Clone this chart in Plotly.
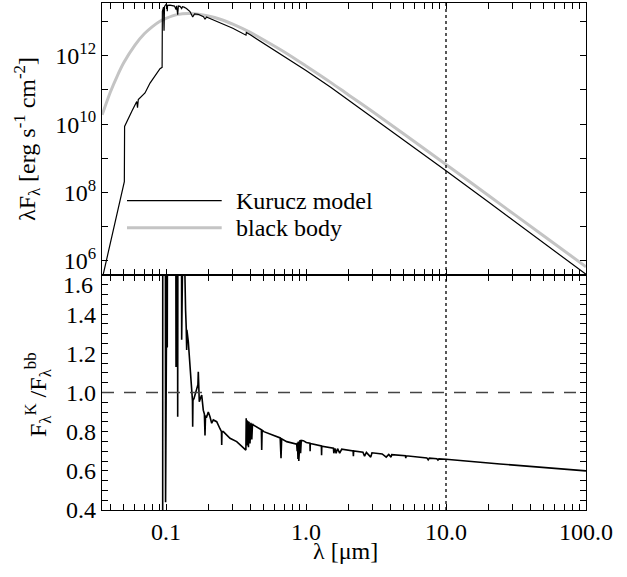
import numpy as np
import plotly.graph_objects as go

# ---------------- data ----------------
# black body: wavelength [um] and log10(lambda F_lambda)
bb_wl = [0.035, 0.04, 0.045, 0.05, 0.06, 0.07, 0.08, 0.09, 0.1, 0.12, 0.15, 0.2, 0.25,
         0.3, 0.4, 0.5, 0.7, 1.0, 1.5, 2.0, 3.0, 5.0, 10.0, 20.0, 50.0, 100.0]
bb_logflux = [10.27, 10.93, 11.42, 11.80, 12.31, 12.64, 12.85, 13.00, 13.09, 13.20, 13.23, 13.16, 13.05,
              12.92, 12.68, 12.46, 12.11, 11.70, 11.22, 10.86, 10.36, 9.71, 8.82, 7.92, 6.73, 5.83]

# Kurucz model: wavelength [um] and log10(lambda F_lambda)
kur_wl = [0.0349, 0.0504, 0.0506, 0.0538, 0.0569, 0.0618, 0.0626, 0.0634, 0.0708, 0.0769,
          0.0834, 0.0906, 0.0938, 0.0942, 0.0960, 0.0968, 0.0976, 0.1000, 0.1018, 0.1021,
          0.1026, 0.1068, 0.1150, 0.1179, 0.1190, 0.1212, 0.1225, 0.1260, 0.1294, 0.1310,
          0.1345, 0.1400, 0.1484, 0.1551, 0.1600, 0.1700, 0.1850, 0.1899, 0.1950, 0.2000,
          0.2500, 0.3000, 0.3727, 0.3750, 0.4000, 0.5000, 0.7000, 1.0, 1.5, 2.0,
          3.0, 5.0, 10.0, 20.0, 50.0, 100.0]
kur_logflux = [5.45, 8.32, 9.93, 10.18, 10.37, 10.66, 10.48, 10.72, 10.91, 11.20,
               11.40, 11.62, 11.66, 13.30, 13.42, 12.73, 13.44, 13.50, 13.46, 13.30,
               13.47, 13.48, 13.45, 13.35, 13.46, 13.20, 13.45, 13.44, 13.38, 13.43,
               13.42, 13.38, 13.29, 13.13, 13.22, 13.21, 13.14, 13.07, 13.13, 13.11,
               12.95, 12.80, 12.60, 12.68, 12.61, 12.36, 11.99, 11.57, 11.08, 10.71,
               10.20, 9.54, 8.64, 7.73, 6.52, 5.61]

# ratio F_K / F_bb
ratio_wl = [0.0349, 0.0935, 0.0947, 0.0948, 0.0990, 0.0993, 0.0996, 0.1018, 0.1021, 0.1024,
            0.1175, 0.1179, 0.1183, 0.1208, 0.1212, 0.1216, 0.1290, 0.1294, 0.1298, 0.1325,
            0.1329, 0.1333, 0.1360, 0.1367, 0.1380, 0.1395, 0.1405, 0.1410, 0.1443, 0.1460,
            0.1484, 0.1510, 0.1526, 0.1545, 0.1551, 0.1558, 0.1585, 0.1620, 0.1657, 0.1690,
            0.1701, 0.1712, 0.1729, 0.1760, 0.1799, 0.1846, 0.1880, 0.1899, 0.1915, 0.1953,
            0.2005, 0.2062, 0.2120, 0.2177, 0.2240, 0.2302, 0.2430, 0.2490, 0.2500, 0.2510,
            0.2567, 0.2715, 0.2865, 0.3199, 0.3378, 0.3720, 0.3740, 0.3760, 0.3780, 0.3810,
            0.3840, 0.3880, 0.3920, 0.3980, 0.4040, 0.4100, 0.4150, 0.4204, 0.4445, 0.4800,
            0.4827, 0.4860, 0.5000, 0.5840, 0.6540, 0.6630, 0.6700, 0.7279, 0.8200, 0.8583,
            0.8650, 0.8700, 0.8760, 0.8820, 0.8880, 0.8950, 0.9060, 0.9150, 0.9250, 0.9565,
            1.0050, 1.0670, 1.0700, 1.0730, 1.2880, 1.2920, 1.2960, 1.5700, 1.5800, 1.6100,
            1.6400, 1.6800, 1.7400, 1.8000, 2.1700, 2.1800, 2.1900, 2.5500, 2.6200, 2.7000,
            2.9000, 2.9600, 3.5000, 3.7400, 3.9000, 4.0500, 4.1000, 5.1300, 5.1600, 5.2000,
            6.5000, 7.3000, 7.4600, 7.6000, 8.6000, 8.7600, 8.9000, 10.0, 24.3, 100.0]
ratio_val = [0.01, 0.30, 0.38, 1.90, 1.90, 0.44, 1.90, 1.90, 1.23, 1.90,
             1.90, 1.13, 1.90, 1.90, 0.876, 1.90, 1.90, 1.27, 1.90, 1.90,
             1.62, 1.90, 1.66, 1.50, 1.42, 1.33, 1.217, 1.32, 1.26, 1.21,
             1.15, 1.06, 1.00, 0.96, 0.825, 0.96, 0.97, 0.99, 1.01, 1.04,
             1.106, 1.02, 0.953, 0.97, 0.987, 0.91, 0.89, 0.78, 0.88, 0.876,
             0.90, 0.876, 0.843, 0.86, 0.855, 0.851, 0.815, 0.80, 0.732, 0.80,
             0.80, 0.783, 0.766, 0.749, 0.732, 0.706, 0.868, 0.74, 0.86, 0.73,
             0.855, 0.72, 0.85, 0.74, 0.845, 0.76, 0.84, 0.834, 0.825, 0.81,
             0.706, 0.808, 0.80, 0.783, 0.768, 0.665, 0.763, 0.749, 0.742, 0.736,
             0.70, 0.745, 0.66, 0.75, 0.65, 0.755, 0.757, 0.69, 0.755, 0.754,
             0.745, 0.741, 0.70, 0.740, 0.727, 0.68, 0.726, 0.716, 0.69, 0.715,
             0.69, 0.713, 0.69, 0.711, 0.702, 0.675, 0.702, 0.695, 0.675, 0.694,
             0.670, 0.692, 0.686, 0.670, 0.684, 0.670, 0.683, 0.677, 0.665, 0.677,
             0.669, 0.666, 0.656, 0.665, 0.662, 0.655, 0.661, 0.659, 0.635, 0.60]

# tick positions and labels
x_tick_vals = [k * 10.0 ** n for n in range(-2, 2) for k in range(1, 10)] + [100.0]
x_tick_text = [("%.1f" % v) if k == 1 else "" for n in range(-2, 2) for k, v in
               [(kk, kk * 10.0 ** n) for kk in range(1, 10)]] + ["100.0"]
top_y_tick_vals = [1e6, 1e7, 1e8, 1e9, 1e10, 1e11, 1e12, 1e13]
top_y_tick_text = ["10<sup>6</sup>", "", "10<sup>8</sup>", "", "10<sup>10</sup>", "", "10<sup>12</sup>", ""]
bot_y_tick_vals = [round(0.4 + 0.05 * i, 2) for i in range(25)]
bot_y_tick_text = [("%.1f" % v) if i % 4 == 0 and i < 24 else "" for i, v in enumerate(bot_y_tick_vals)]
marker_wl = 10.0
ref_ratio = 1.0

# ---------------- figure ----------------
FONT = "Liberation Serif"
FS = 24
W, H = 627, 577
L, R, T, B = 102, 41, 3, 67
pw, ph = W - L - R, H - T - B
split = (510 - 275) / ph
xr = [float(np.log10(0.0349)), 2.0]


def px(x):
    return (x - L) / pw


def py(y):
    return (H - B - y) / ph


def axis_style():
    return dict(showline=True, linecolor="black", linewidth=1.3, mirror="ticks",
                ticks="inside", ticklen=6, tickwidth=1.2, tickcolor="black",
                showgrid=False, zeroline=False, automargin=False)


fig = go.Figure()
fig.add_trace(go.Scatter(x=bb_wl, y=[10.0 ** v for v in bb_logflux], mode="lines",
                         line=dict(color="#c4c4c4", width=3, shape="spline", smoothing=0.8),
                         xaxis="x", yaxis="y", showlegend=False))
fig.add_trace(go.Scatter(x=kur_wl, y=[10.0 ** v for v in kur_logflux], mode="lines",
                         line=dict(color="black", width=1.2),
                         xaxis="x", yaxis="y", showlegend=False))
fig.add_trace(go.Scatter(x=ratio_wl, y=ratio_val, mode="lines",
                         line=dict(color="black", width=1.6),
                         xaxis="x2", yaxis="y2", showlegend=False))

fig.update_layout(
    template="none",
    width=W, height=H, margin=dict(l=L, r=R, t=T, b=B, autoexpand=False),
    paper_bgcolor="white", plot_bgcolor="white",
    font=dict(family=FONT, size=FS, color="black"), showlegend=False,
    xaxis=dict(type="log", range=xr, domain=[0, 1], anchor="y",
               tickmode="array", tickvals=x_tick_vals, ticktext=x_tick_text, showticklabels=False,
               **axis_style()),
    xaxis2=dict(type="log", range=xr, domain=[0, 1], anchor="y2",
                tickmode="array", tickvals=x_tick_vals, ticktext=x_tick_text,
                **axis_style()),
    yaxis=dict(type="log", range=[5.59, 13.54], domain=[split, 1], anchor="x",
               tickmode="array", tickvals=top_y_tick_vals, ticktext=top_y_tick_text,
               **axis_style()),
    yaxis2=dict(range=[0.4, 1.6], domain=[0, split], anchor="x2",
                tickmode="array", tickvals=bot_y_tick_vals, ticktext=bot_y_tick_text,
                **axis_style()),
)

# reference lines
fig.add_shape(type="line", xref="x", yref="paper", x0=marker_wl, x1=marker_wl, y0=0, y1=1,
              line=dict(color="black", width=1.3, dash="dot"))
fig.add_shape(type="line", xref="paper", yref="y2", x0=0, x1=1, y0=ref_ratio, y1=ref_ratio,
              line=dict(color="#444444", width=1.3, dash="12px,10px"))

# legend (drawn by hand)
fig.add_shape(type="line", xref="paper", yref="paper", x0=px(127), x1=px(221.7), y0=py(200.7), y1=py(200.7),
              line=dict(color="black", width=1.2))
fig.add_shape(type="line", xref="paper", yref="paper", x0=px(127), x1=px(221.7), y0=py(227.7), y1=py(227.7),
              line=dict(color="#c4c4c4", width=3))
ann = [
    dict(text="Kurucz model", x=px(234), y=py(201), xanchor="left", yanchor="middle"),
    dict(text="black body", x=px(234), y=py(228), xanchor="left", yanchor="middle"),
    dict(text="1.6", x=px(95), y=py(285), xanchor="right", yanchor="middle"),
    dict(text="λF<sub>λ</sub> [erg s<sup>-1</sup> cm<sup>-2</sup>]", x=px(27), y=py(139),
         xanchor="center", yanchor="middle", textangle=-90),
    dict(text="F<sub>λ</sub><sup>K</sup> /F<sub>λ</sub><sup>bb</sup>", x=px(38), y=py(395),
         xanchor="center", yanchor="middle", textangle=-90),
    dict(text="λ [μm]", x=px(345), y=py(551), xanchor="center", yanchor="middle"),
]
for a in ann:
    fig.add_annotation(xref="paper", yref="paper", showarrow=False,
                       font=dict(family=FONT, size=FS, color="black"), **a)

fig.write_html("out.html")
